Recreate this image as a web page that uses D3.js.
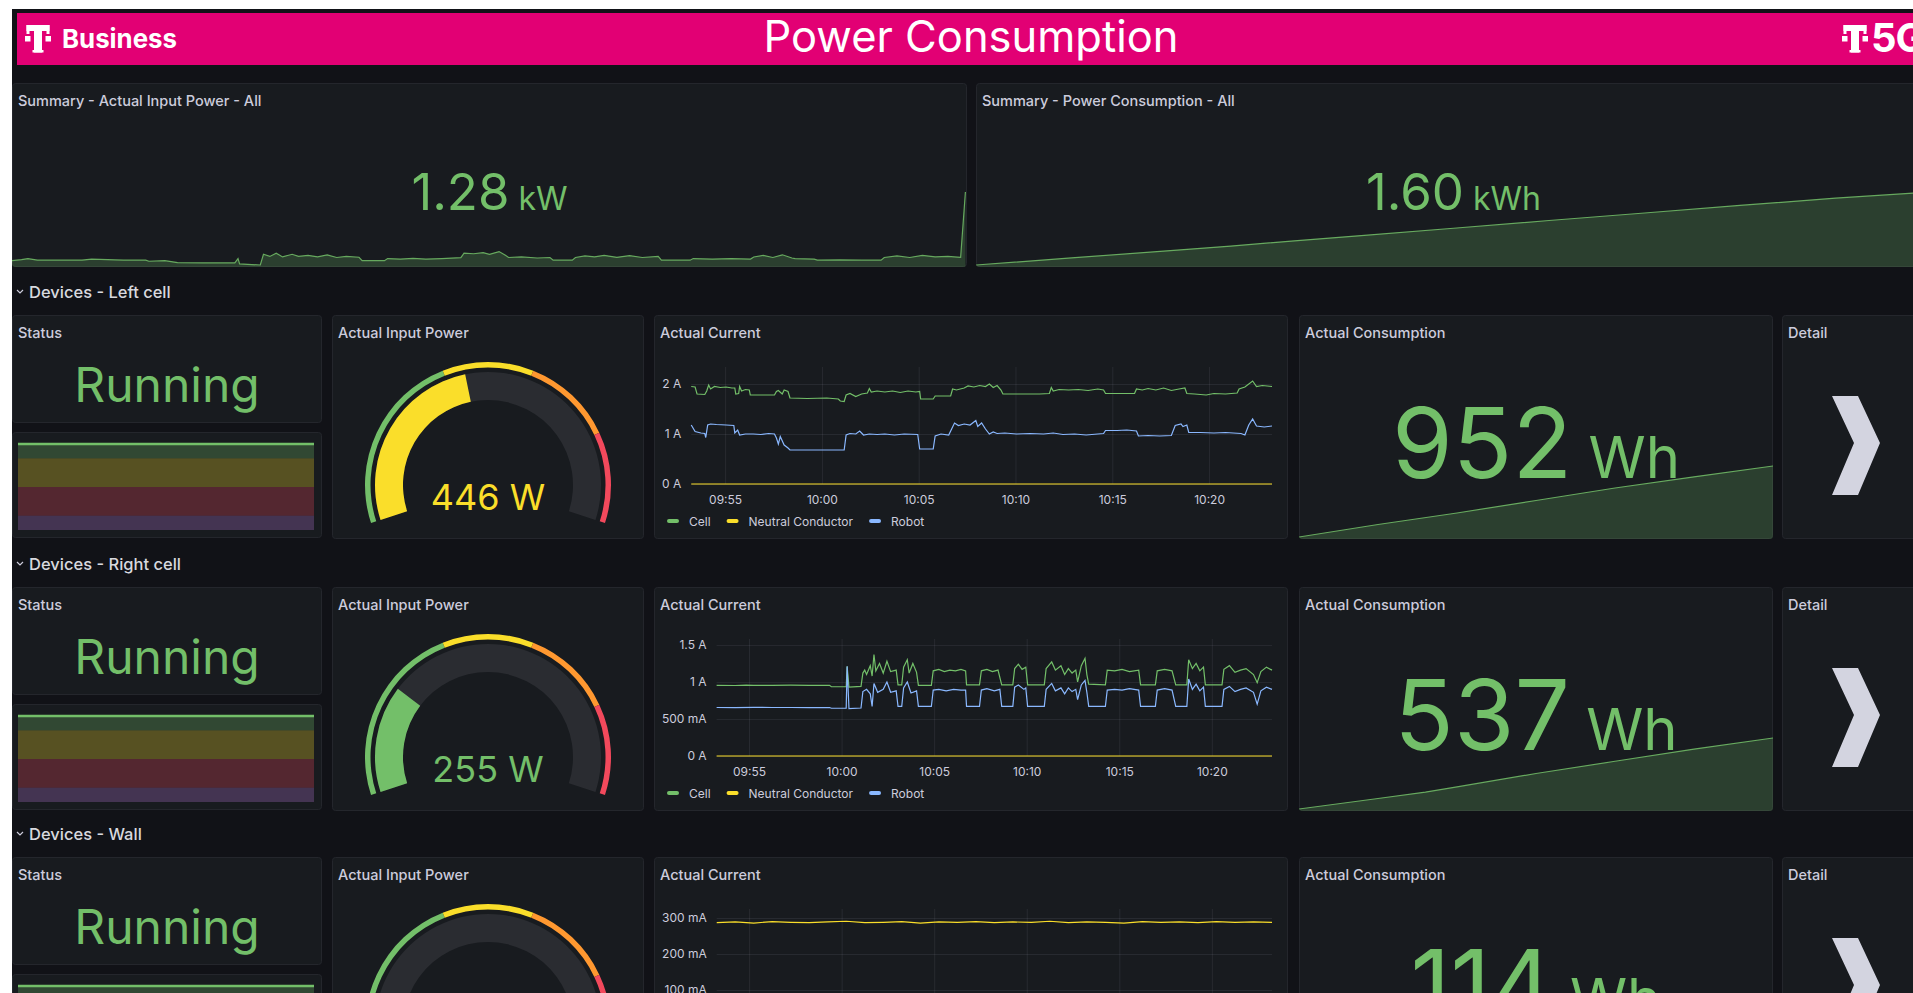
<!DOCTYPE html>
<html>
<head>
<meta charset="utf-8">
<title>Power Consumption</title>
<script src="https://d3js.org/d3.v7.min.js"></script>
<style>
  html, body { margin: 0; padding: 0; background: #fff; overflow: hidden; }
  svg { display: block; font-family: Inter, "Noto Sans", sans-serif; }
</style>
</head>
<body>
<script>
// ---- data (times are minutes after 09:53:15) ----
const rowNames = ["Devices - Left cell", "Devices - Right cell", "Devices - Wall"];
const statusStates = ["Off", "Error", "Standby", "Running"];
const statusHistory = [
  [[0, 3], [30, 3]],
  [[0, 3], [30, 3]],
  [[0, 3], [30, 3]]
];
const inputPowerW = [446, 255, 62];
const gaugeMax = 1000;
const gaugeSteps = [0, 400, 600, 800];

const summaryPower = [[0,0.64],[0.3,0.65],[0.5,0.66],[0.8,0.645],[1.5,0.645],[2.2,0.645],[2.5,0.655],[3.0,0.65],[3.5,0.645],[4.2,0.645],[4.3,0.635],[4.8,0.64],[5.0,0.632],[5.2,0.622],[6.0,0.62],[7.0,0.62],[7.1,0.66],[7.15,0.61],[7.8,0.60],[7.9,0.70],[8.1,0.68],[8.3,0.71],[8.5,0.675],[8.8,0.70],[9.0,0.68],[9.3,0.69],[9.6,0.675],[9.9,0.695],[10.2,0.67],[10.5,0.68],[10.9,0.672],[11.0,0.64],[11.7,0.64],[11.8,0.66],[12.2,0.655],[12.6,0.662],[13.0,0.655],[13.5,0.66],[14.1,0.668],[14.2,0.71],[14.5,0.705],[14.8,0.715],[15.0,0.70],[15.3,0.725],[15.5,0.69],[15.6,0.67],[16.0,0.675],[16.5,0.665],[16.9,0.67],[17.0,0.645],[17.6,0.645],[17.7,0.67],[18.0,0.685],[18.3,0.675],[18.6,0.69],[19.0,0.672],[19.4,0.688],[19.8,0.67],[20.3,0.68],[20.4,0.645],[21.3,0.645],[21.4,0.66],[22.0,0.655],[22.6,0.66],[23.2,0.655],[23.3,0.675],[23.6,0.69],[23.9,0.67],[24.2,0.695],[24.5,0.665],[24.6,0.66],[25.2,0.655],[25.3,0.645],[26.0,0.648],[26.7,0.645],[27.3,0.645],[27.4,0.67],[27.8,0.685],[28.2,0.67],[28.6,0.69],[29.0,0.675],[29.4,0.68],[29.8,0.672],[29.95,1.28]];
const summaryEnergy = [[0,1.280],[3,1.311],[6,1.342],[8,1.363],[10,1.386],[12,1.408],[15,1.441],[18,1.475],[21,1.508],[24,1.541],[27,1.573],[30,1.600]];

const leftCell = [[0,1.95],[0.2,1.94],[0.3,1.80],[0.7,1.79],[0.8,1.86],[0.9,1.98],[1.0,1.90],[1.2,1.95],[1.5,1.93],[1.8,1.94],[2.1,1.92],[2.25,1.92],[2.3,1.80],[2.45,1.81],[2.5,1.95],[2.6,1.86],[2.8,1.89],[3.0,1.88],[3.05,1.78],[3.6,1.78],[4.3,1.78],[4.4,1.85],[4.5,1.87],[4.7,1.80],[4.8,1.88],[5.0,1.85],[5.1,1.72],[6.0,1.71],[7.0,1.72],[7.6,1.70],[7.7,1.66],[7.9,1.65],[8.0,1.78],[8.2,1.81],[8.5,1.75],[8.8,1.80],[9.1,1.82],[9.2,1.91],[9.3,1.84],[9.6,1.86],[10.0,1.84],[10.4,1.86],[10.8,1.83],[11.2,1.86],[11.6,1.84],[11.8,1.85],[11.85,1.70],[12.5,1.70],[12.6,1.76],[13.4,1.76],[13.5,1.90],[13.7,1.88],[14.1,1.92],[14.3,1.96],[14.6,1.94],[14.9,1.97],[15.2,1.95],[15.4,2.0],[15.6,1.93],[15.8,1.97],[16.0,1.88],[16.1,1.80],[17.0,1.80],[18.0,1.80],[18.5,1.81],[18.6,1.93],[18.7,1.86],[19.0,1.89],[19.5,1.88],[20.0,1.89],[20.5,1.87],[21.0,1.90],[21.3,1.88],[21.4,1.81],[22.0,1.81],[22.9,1.81],[23.0,1.90],[23.3,1.88],[23.6,1.91],[24.0,1.88],[24.4,1.92],[24.8,1.87],[25.2,1.90],[25.5,1.92],[25.6,1.81],[26.0,1.80],[26.6,1.78],[27.0,1.81],[27.6,1.80],[28.2,1.82],[28.3,1.90],[28.6,1.94],[29.0,2.06],[29.2,1.95],[29.5,1.97],[30,1.95]];
const leftRobot = [[0,1.18],[0.2,1.05],[0.5,1.02],[0.7,1.01],[0.75,0.93],[0.85,1.18],[1.0,1.20],[1.3,1.19],[1.8,1.18],[2.2,1.17],[2.25,1.02],[2.4,1.08],[2.5,0.98],[2.8,1.00],[3.2,1.00],[3.6,0.99],[4.0,1.01],[4.3,1.00],[4.4,0.92],[4.5,0.80],[4.6,0.95],[4.8,0.78],[5.0,0.72],[5.1,0.68],[6.0,0.68],[7.0,0.68],[7.9,0.68],[8.0,0.98],[8.2,1.01],[8.5,1.00],[8.7,1.06],[8.9,0.98],[9.2,1.00],[9.6,0.99],[10.0,1.00],[10.5,0.98],[11.0,1.00],[11.7,0.99],[11.8,0.70],[12.5,0.70],[12.6,0.96],[12.9,1.0],[13.3,0.98],[13.6,1.22],[13.8,1.17],[14.1,1.20],[14.4,1.18],[14.7,1.27],[14.8,1.15],[15.0,1.22],[15.2,1.10],[15.4,1.00],[15.6,1.04],[15.8,1.01],[16.2,1.02],[16.8,1.00],[17.5,1.01],[18.2,1.00],[18.7,1.02],[19.2,0.99],[19.8,1.00],[20.4,0.98],[21.0,1.00],[21.3,1.01],[21.4,1.07],[22.0,1.07],[22.5,1.08],[23.0,1.06],[23.1,0.96],[23.6,0.97],[24.2,0.96],[24.8,0.97],[25.0,1.17],[25.3,1.20],[25.4,1.15],[25.6,1.18],[25.7,1.03],[26.3,1.03],[27.0,1.02],[27.6,1.03],[28.4,1.01],[28.6,0.98],[28.8,1.18],[29.0,1.30],[29.2,1.16],[29.6,1.14],[30,1.16]];
const leftNeutral = [[0,0],[10,0],[20,0],[30,0]];

const rightCell = [[0,0.955],[1,0.952],[1.6,0.958],[2,0.955],[3,0.954],[4,0.956],[5,0.955],[6.1,0.955],[6.2,0.936],[7.0,0.935],[7.05,1.21],[7.15,0.93],[7.8,0.94],[7.9,1.12],[8.0,1.16],[8.1,1.10],[8.3,1.22],[8.4,1.08],[8.5,1.37],[8.6,1.15],[8.8,1.25],[9.0,1.12],[9.2,1.28],[9.4,1.14],[9.7,1.16],[9.8,0.96],[10.0,0.96],[10.1,1.20],[10.3,1.30],[10.4,1.12],[10.6,1.25],[10.8,1.13],[10.9,0.955],[11.6,0.955],[11.7,1.15],[12.0,1.17],[12.3,1.14],[12.6,1.16],[12.9,1.15],[13.2,1.17],[13.45,1.15],[13.5,0.96],[14.2,0.96],[14.3,1.15],[14.6,1.17],[14.9,1.14],[15.2,1.16],[15.4,0.96],[16.0,0.96],[16.1,1.18],[16.3,1.24],[16.5,1.17],[16.7,1.20],[16.8,0.96],[17.7,0.96],[17.8,1.18],[18.1,1.27],[18.3,1.16],[18.6,1.22],[18.8,1.10],[19.0,1.18],[19.2,1.12],[19.4,1.16],[19.5,1.00],[19.7,1.22],[19.9,1.32],[20.0,1.10],[20.1,0.97],[21.0,0.96],[21.1,1.16],[21.5,1.15],[21.9,1.17],[22.3,1.14],[22.8,1.16],[22.9,0.96],[23.7,0.96],[23.8,1.15],[24.2,1.17],[24.6,1.15],[24.8,0.96],[25.4,0.96],[25.5,1.30],[25.7,1.18],[25.9,1.25],[26.1,1.15],[26.3,1.20],[26.4,0.96],[27.3,0.96],[27.4,1.17],[27.7,1.22],[28.0,1.13],[28.3,1.16],[28.6,1.18],[29.0,1.10],[29.2,0.99],[29.4,1.14],[29.7,1.20],[30,1.16]];
const rightRobot = [[0,0.655],[1,0.654],[2,0.656],[3,0.655],[4,0.655],[5,0.654],[6.1,0.655],[6.2,0.645],[7.0,0.645],[7.05,1.21],[7.15,0.64],[7.8,0.648],[7.9,0.87],[8.1,0.90],[8.3,0.84],[8.4,0.67],[8.5,0.98],[8.7,0.86],[9.0,0.90],[9.2,1.00],[9.4,0.86],[9.7,0.88],[9.8,0.67],[10.0,0.67],[10.1,0.92],[10.3,1.00],[10.5,0.85],[10.8,0.88],[10.9,0.67],[11.6,0.67],[11.7,0.89],[12.0,0.90],[12.4,0.88],[12.8,0.90],[13.2,0.89],[13.45,0.89],[13.5,0.67],[14.2,0.67],[14.3,0.89],[14.6,0.91],[15.0,0.88],[15.3,0.90],[15.4,0.67],[16.0,0.67],[16.1,0.93],[16.3,0.96],[16.6,0.90],[16.7,0.92],[16.8,0.67],[17.7,0.67],[17.8,0.90],[18.1,0.98],[18.3,0.88],[18.6,0.92],[18.8,0.84],[19.0,0.92],[19.2,0.87],[19.4,0.90],[19.5,0.76],[19.7,0.96],[19.9,1.02],[20.0,0.86],[20.1,0.67],[21.0,0.67],[21.1,0.89],[21.5,0.90],[21.9,0.89],[22.3,0.91],[22.8,0.89],[22.9,0.67],[23.7,0.67],[23.8,0.89],[24.2,0.91],[24.6,0.89],[24.8,0.67],[25.4,0.67],[25.5,1.04],[25.7,0.90],[25.9,0.97],[26.1,0.88],[26.3,0.93],[26.4,0.67],[27.3,0.67],[27.4,0.90],[27.7,0.94],[28.0,0.87],[28.3,0.90],[28.6,0.92],[29.0,0.86],[29.2,0.70],[29.4,0.88],[29.7,0.93],[30,0.90]];
const rightNeutral = [[0,0],[10,0],[20,0],[30,0]];

const wallCurrent = [[0,0.287],[1,0.289],[2,0.286],[3,0.290],[4,0.288],[5,0.287],[6,0.289],[7,0.291],[8,0.287],[9,0.288],[10,0.290],[11,0.286],[12,0.289],[13,0.288],[14,0.290],[15,0.287],[16,0.289],[17,0.288],[18,0.291],[19,0.287],[20,0.289],[21,0.288],[22,0.286],[23,0.290],[24,0.288],[25,0.289],[26,0.287],[27,0.290],[28,0.288],[29,0.289],[30,0.288]];

const currentMax = [2.34, 1.58, 0.325];
const currentTicks = [[0, 1, 2], [0, 0.5, 1, 1.5], [0, 0.1, 0.2, 0.3]];

const consumptionWh = [
  [[0,742],[5,779],[10,813],[15,850],[20,887],[25,920],[30,952]],
  [[0,415],[5,433],[8,444],[10,453],[15,476],[20,497],[25,518],[30,537]],
  [[0,83],[10,93.5],[20,104],[30,114]]
];

// ---- setup ----
const t0 = new Date(2024, 0, 15, 9, 53, 15);
const spanMin = 30;
const at = m => new Date(t0.getTime() + m * 60000);

const C = {
  canvas: "#111217", panel: "#181b1f", border: "#24262c", text: "#ccccdc",
  green: "#73bf69", yellow: "#fade2a", orange: "#ff9830", red: "#f2495c",
  blue: "#8ab8ff", purple: "#b877d9", pink: "#e20074", track: "#2a2c31"
};
const stepColors = [C.green, C.yellow, C.orange, C.red];
const stateColors = [C.purple, C.red, C.yellow, C.green];

const currentSeries = [
  [{name: "Cell", color: C.green, data: leftCell}, {name: "Neutral Conductor", color: C.yellow, data: leftNeutral}, {name: "Robot", color: C.blue, data: leftRobot}],
  [{name: "Cell", color: C.green, data: rightCell}, {name: "Neutral Conductor", color: C.yellow, data: rightNeutral}, {name: "Robot", color: C.blue, data: rightRobot}],
  [{name: "Wall", color: C.yellow, data: wallCurrent}]
];

const W = 1913, H = 993;
const svg = d3.select("body").append("svg").attr("width", W).attr("height", H);
const defs = svg.append("defs");
let clipCount = 0;

svg.append("rect").attr("x", 12).attr("y", 9).attr("width", W - 12).attr("height", H - 9).attr("fill", C.canvas);

// ---- header bar ----
const hdr = svg.append("g");
hdr.append("rect").attr("x", 17).attr("y", 13).attr("width", W - 17).attr("height", 52).attr("fill", C.pink);

function tLogo(x) {
  const g = hdr.append("g").attr("transform", `translate(${x},25)`).attr("fill", "#fff");
  g.append("rect").attr("x", 1.5).attr("y", 0).attr("width", 23).attr("height", 6);
  g.append("rect").attr("x", 1.5).attr("y", 0).attr("width", 3).attr("height", 9);
  g.append("rect").attr("x", 21.5).attr("y", 0).attr("width", 3).attr("height", 9);
  g.append("rect").attr("x", 9).attr("y", 0).attr("width", 8).attr("height", 27.5);
  g.append("rect").attr("x", 7.5).attr("y", 25).attr("width", 11).attr("height", 2.5);
  g.append("rect").attr("x", 0).attr("y", 11).attr("width", 5.5).attr("height", 5.5);
  g.append("rect").attr("x", 20.5).attr("y", 11).attr("width", 5.5).attr("height", 5.5);
}
tLogo(25);
tLogo(1842);

hdr.append("text").attr("x", 62).attr("y", 48).attr("fill", "#fff")
  .attr("font-size", 26).attr("font-weight", 700)
  .attr("textLength", 115).attr("lengthAdjust", "spacingAndGlyphs").text("Business");
hdr.append("text").attr("x", 1871).attr("y", 52).attr("fill", "#fff")
  .attr("font-size", 40).attr("font-weight", 700).attr("letter-spacing", -1).text("5G");

const title = hdr.append("text").attr("x", 971).attr("y", 52).attr("text-anchor", "middle")
  .attr("fill", "#fff").attr("font-size", 44).text("Power Consumption");
const tw = title.node().getComputedTextLength();
title.attr("font-size", 44 * 415 / tw);

// ---- helpers ----
function panel(x, y, w, h, label) {
  const g = svg.append("g").attr("transform", `translate(${x},${y})`);
  g.append("rect").attr("x", 0.5).attr("y", 0.5).attr("width", w - 1).attr("height", h - 1).attr("rx", 3)
    .attr("fill", C.panel).attr("stroke", C.border);
  const id = "clip" + (clipCount++);
  defs.append("clipPath").attr("id", id).append("rect").attr("width", w).attr("height", h).attr("rx", 3);
  const body = g.append("g").attr("clip-path", `url(#${id})`);
  if (label) {
    g.append("text").attr("x", 6).attr("y", 23).attr("fill", C.text)
      .attr("font-size", 14.5).attr("font-weight", 500).text(label);
  }
  return body;
}

function stat(body, w, h, series, valueText, unit, o) {
  const x = d3.scaleTime().domain([t0, at(spanMin)]).range([0, w]);
  const y = d3.scaleLinear().domain(d3.extent(series, d => d[1])).range([h - 2, h - 2 - o.spark]);
  body.append("path").datum(series)
    .attr("d", d3.area().x(d => x(at(d[0]))).y0(h).y1(d => y(d[1])))
    .attr("fill", C.green).attr("fill-opacity", 0.22);
  body.append("path").datum(series)
    .attr("d", d3.line().x(d => x(at(d[0]))).y(d => y(d[1])))
    .attr("fill", "none").attr("stroke", C.green).attr("stroke-opacity", 0.85).attr("stroke-width", 1.2);
  const t = body.append("text").attr("x", w / 2).attr("y", o.base).attr("text-anchor", "middle").attr("fill", C.green);
  t.append("tspan").attr("font-size", o.num).text(valueText);
  t.append("tspan").attr("font-size", o.unit).text(" " + unit);
}

function gauge(body, w, value) {
  const g = body.append("g").attr("transform", `translate(${w / 2},170)`);
  const a = d3.scaleLinear().domain([0, gaugeMax]).range([-0.6 * Math.PI, 0.6 * Math.PI]);
  const arc = d3.arc();
  g.append("path").attr("fill", C.track)
    .attr("d", arc({innerRadius: 85, outerRadius: 113, startAngle: a(0), endAngle: a(gaugeMax)}));
  gaugeSteps.forEach((s, i) => {
    const e = i + 1 < gaugeSteps.length ? gaugeSteps[i + 1] : gaugeMax;
    g.append("path").attr("fill", stepColors[i])
      .attr("d", arc({innerRadius: 117.5, outerRadius: 123, startAngle: a(s), endAngle: a(e)}));
  });
  const col = stepColors[d3.bisectRight(gaugeSteps, value) - 1];
  g.append("path").attr("fill", col)
    .attr("d", arc({innerRadius: 85, outerRadius: 113, startAngle: a(0), endAngle: a(value)}));
  g.append("text").attr("y", 25).attr("text-anchor", "middle").attr("fill", col)
    .attr("font-size", 36).text(value + " W");
}

function statusBars(body, w, history) {
  const x = d3.scaleTime().domain([t0, at(spanMin)]).range([6, w - 8]);
  const y = d3.scaleLinear().domain([0, statusStates.length - 1]).range([98, 12]);
  statusStates.forEach((s, i) => {
    const lo = Math.max(0, i - 0.5), hi = Math.min(statusStates.length - 1, i + 0.5);
    body.append("rect").attr("x", x.range()[0]).attr("width", x.range()[1] - x.range()[0])
      .attr("y", y(hi)).attr("height", y(lo) - y(hi))
      .attr("fill", stateColors[i]).attr("fill-opacity", 0.28);
  });
  body.append("path").datum(history)
    .attr("d", d3.line().x(d => x(at(d[0]))).y(d => y(d[1])))
    .attr("fill", "none").attr("stroke", C.green).attr("stroke-width", 2.5);
}

function fmtA(v) {
  if (v === 0) return "0 A";
  if (v < 1) return Math.round(v * 1000) + " mA";
  return d3.format("~g")(v) + " A";
}

function currentChart(body, w, series, yMax, ticks) {
  const top = 52, bottom = 169, right = w - 16;
  const probe = body.append("text").attr("font-size", 12);
  let maxW = 0;
  ticks.forEach(v => { probe.text(fmtA(v)); maxW = Math.max(maxW, probe.node().getComputedTextLength()); });
  probe.remove();
  const left = 8 + maxW + 10;
  const x = d3.scaleTime().domain([t0, at(spanMin)]).range([left, right]);
  const y = d3.scaleLinear().domain([0, yMax]).range([bottom, top]);
  const xt = x.ticks(d3.timeMinute.every(5));

  const grid = "rgba(204,204,220,0.09)";
  const gx = body.append("g").attr("transform", `translate(0,${bottom})`)
    .call(d3.axisBottom(x).tickValues(xt).tickSize(-(bottom - top)).tickFormat(""));
  const gy = body.append("g").attr("transform", `translate(${left},0)`)
    .call(d3.axisLeft(y).tickValues(ticks).tickSize(-(right - left)).tickFormat(""));
  [gx, gy].forEach(g => { g.select(".domain").remove(); g.selectAll("line").attr("stroke", grid); });

  const ay = body.append("g").attr("transform", `translate(${left},0)`)
    .call(d3.axisLeft(y).tickValues(ticks).tickFormat(fmtA).tickSize(0).tickPadding(10));
  const ax = body.append("g").attr("transform", `translate(0,${bottom})`)
    .call(d3.axisBottom(x).tickValues(xt).tickFormat(d3.timeFormat("%H:%M")).tickSize(0).tickPadding(11));
  [ay, ax].forEach(g => {
    g.attr("font-family", null).attr("font-size", 12);
    g.select(".domain").remove();
    g.selectAll("text").attr("fill", C.text);
  });

  const line = d3.line().x(d => x(at(d[0]))).y(d => y(d[1]));
  series.forEach(s => {
    body.append("path").datum(s.data).attr("d", line)
      .attr("fill", "none").attr("stroke", s.color).attr("stroke-width", 1.2);
  });

  const lg = body.append("g").attr("transform", "translate(13,206)");
  let lx = 0;
  series.forEach(s => {
    lg.append("rect").attr("x", lx).attr("y", -2).attr("width", 12).attr("height", 4).attr("rx", 2).attr("fill", s.color);
    const t = lg.append("text").attr("x", lx + 22).attr("y", 4.5).attr("font-size", 12).attr("fill", C.text).text(s.name);
    lx += 22 + t.node().getComputedTextLength() + 16;
  });
}

function chevron(body) {
  const pts = [[50, 81], [76, 81], [98, 128], [76, 180], [50, 180], [72, 128]];
  body.append("path").attr("d", d3.line()(pts) + "Z").attr("fill", "#d3d4e0");
}

// ---- summary row ----
const s1 = panel(12, 83, 955, 184, "Summary - Actual Input Power - All");
stat(s1, 955, 184, summaryPower, d3.format(".2f")(summaryPower[summaryPower.length - 1][1]), "kW",
  {spark: 73, base: 210 - 83, num: 51, unit: 32});
const s2 = panel(976, 83, 955, 184, "Summary - Power Consumption - All");
stat(s2, 955, 184, summaryEnergy, d3.format(".2f")(summaryEnergy[summaryEnergy.length - 1][1]), "kWh",
  {spark: 73, base: 210 - 83, num: 51, unit: 32});

// ---- device rows ----
const rowTops = [315, 587, 857];
rowTops.forEach((top, r) => {
  const hy = top - 23;
  svg.append("path").attr("d", `M17,${hy - 2}l3,3l3,-3`).attr("fill", "none").attr("stroke", C.text).attr("stroke-width", 1.2);
  svg.append("text").attr("x", 29).attr("y", hy + 5.5).attr("fill", "#d8d9df")
    .attr("font-size", 16.5).attr("font-weight", 500).text(rowNames[r]);

  const st = panel(12, top, 310, 108, "Status");
  st.append("text").attr("x", 155).attr("y", 87).attr("text-anchor", "middle").attr("fill", C.green)
    .attr("font-size", 48).text(statusStates[statusHistory[r][statusHistory[r].length - 1][1]]);
  const sb = panel(12, top + 117, 310, 106, null);
  statusBars(sb, 310, statusHistory[r]);

  const gp = panel(332, top, 312, 224, "Actual Input Power");
  gauge(gp, 312, inputPowerW[r]);

  const cp = panel(654, top, 634, 224, "Actual Current");
  currentChart(cp, 634, currentSeries[r], currentMax[r], currentTicks[r]);

  const kp = panel(1299, top, 474, 224, "Actual Consumption");
  const cw = consumptionWh[r];
  stat(kp, 474, 224, cw, d3.format(".0f")(cw[cw.length - 1][1]), "Wh",
    {spark: 71, base: 163, num: 98, unit: 58});

  const dp = panel(1782, top, 150, 224, "Detail");
  chevron(dp);
});
</script>
</body>
</html>
